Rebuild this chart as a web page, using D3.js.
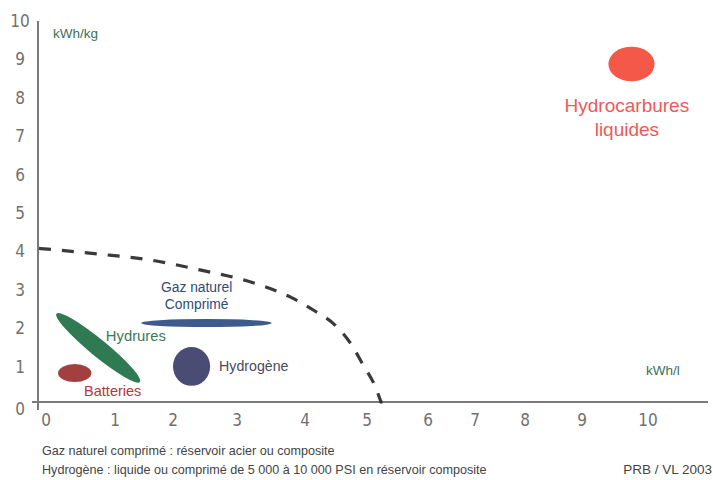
<!DOCTYPE html>
<html>
<head>
<meta charset="utf-8">
<script src="https://cdn.jsdelivr.net/npm/d3@7"></script>
<style>
  html, body { margin: 0; padding: 0; background: #fff; }
  svg { display: block; }
</style>
</head>
<body>
<script>
// ---- Data ----
const xTicks = [0, 1, 2, 3, 4, 5, 6, 7, 8, 9, 10];
const yTicks = [0, 1, 2, 3, 4, 5, 6, 7, 8, 9, 10];

// Boundary (dashed) curve: [kWh/l, kWh/kg]
const limitX = [0, 0.8, 1.6, 2.42, 3.19, 3.81, 4.16, 4.48, 4.73, 4.94, 5.13, 5.23];
const limitY = [4.0, 3.85, 3.7, 3.44, 3.13, 2.71, 2.37, 2.01, 1.54, 0.96, 0.42, 0];

// Technology regions (ranges of kWh/l and kWh/kg)
const techNames  = ["Hydrocarbures liquides", "Gaz naturel Comprimé", "Hydrogène", "Batteries"];
const techXRange = [[9.4, 10.1], [1.45, 3.51], [2.0, 2.58], [0.25, 0.69]];
const techYRange = [[8.35, 9.25], [1.95, 2.16], [0.42, 1.43], [0.52, 0.99]];
// Hydrures: elongated region between two end points
const hydruresEnds = [[0.23, 2.3], [1.43, 0.52]];

// Labels
const labelLines = [["Hydrocarbures", "liquides"], ["Gaz naturel", "Comprimé"], ["Hydrogène"], ["Batteries"], ["Hydrures"]];
const labelPos   = [[9.68, 7.72], [2.37, 3.0], [2.72, 0.93], [0.97, 0.28], [1.36, 1.72]];

const footnotes = [
  "Gaz naturel comprimé : réservoir acier ou composite",
  "Hydrogène : liquide ou comprimé de 5 000 à 10 000 PSI en réservoir composite"
];
const credit = "PRB / VL 2003";
const yUnit = "kWh/kg";
const xUnit = "kWh/l";

// ---- Layout ----
const W = 713, H = 480;
const svg = d3.select("body").append("svg").attr("width", W).attr("height", H);

// Original figure has an irregular horizontal graduation: polylinear scale
const x = d3.scaleLinear()
  .domain(xTicks)
  .range([39, 115, 173, 237, 305, 367, 428, 475, 525, 582, 648]);
const y = d3.scaleLinear().domain([0, 10]).range([402, 18]);

const axisColor = "#7a7a7a";
const tickFont = "'Liberation Sans Narrow', 'DejaVu Sans Condensed', 'Arial Narrow', sans-serif";
const textFont = "Arial, 'Liberation Sans', sans-serif";

// Axes lines
svg.append("line").attr("x1", 38).attr("x2", 38).attr("y1", 21).attr("y2", 410)
  .attr("stroke", axisColor).attr("stroke-width", 2);
svg.append("line").attr("x1", 32).attr("x2", 708).attr("y1", y(0)).attr("y2", y(0))
  .attr("stroke", axisColor).attr("stroke-width", 2);

// Y tick labels
svg.append("g").selectAll("text").data(yTicks).join("text")
  .attr("x", 20).attr("y", d => y(d) + (d === 0 ? 7 : 3))
  .attr("dy", "0.35em")
  .attr("text-anchor", "middle")
  .attr("font-family", tickFont).attr("font-size", 17).attr("fill", "#707070")
  .text(d => d);

// X tick labels
svg.append("g").selectAll("text").data(xTicks).join("text")
  .attr("x", d => x(d) + (d === 0 ? 7 : 0)).attr("y", 420)
  .attr("dy", "0.35em")
  .attr("text-anchor", "middle")
  .attr("font-family", tickFont).attr("font-size", 17).attr("fill", "#707070")
  .text(d => d);

// Units
svg.append("text").attr("x", 53).attr("y", 38)
  .attr("font-family", textFont).attr("font-size", 13.5)
  .attr("fill", "#3e6e5a").text(yUnit);
svg.append("text").attr("x", 646).attr("y", 375)
  .attr("font-family", textFont).attr("font-size", 13.5)
  .attr("fill", "#3e6e5a").text(xUnit);

// Dashed limit curve
const curve = d3.line().x(d => x(d[0])).y(d => y(d[1])).curve(d3.curveMonotoneX);
svg.append("path")
  .datum(limitX.map((v, i) => [v, limitY[i]]))
  .attr("d", curve)
  .attr("fill", "none").attr("stroke", "#3a3a3a").attr("stroke-width", 3.2)
  .attr("stroke-dasharray", "12,11");
svg.append("circle").attr("cx", x(5.23)).attr("cy", y(0)).attr("r", 1.8).attr("fill", "#333");

// Technology ellipses
const techFill = ["#f45848", "#3d5b8c", "#4a4c74", "#a2403f"];
svg.append("g").selectAll("ellipse").data(techNames).join("ellipse")
  .attr("cx", (d, i) => (x(techXRange[i][0]) + x(techXRange[i][1])) / 2)
  .attr("cy", (d, i) => (y(techYRange[i][0]) + y(techYRange[i][1])) / 2)
  .attr("rx", (d, i) => Math.abs(x(techXRange[i][1]) - x(techXRange[i][0])) / 2)
  .attr("ry", (d, i) => Math.abs(y(techYRange[i][1]) - y(techYRange[i][0])) / 2)
  .attr("fill", (d, i) => techFill[i]);

// Hydrures rotated ellipse
{
  const [a, b] = hydruresEnds;
  const x1 = x(a[0]), y1 = y(a[1]), x2 = x(b[0]), y2 = y(b[1]);
  const cx = (x1 + x2) / 2, cy = (y1 + y2) / 2;
  const len = Math.hypot(x2 - x1, y2 - y1) / 2;
  const ang = Math.atan2(y2 - y1, x2 - x1) * 180 / Math.PI;
  svg.append("ellipse")
    .attr("cx", 0).attr("cy", 0).attr("rx", len).attr("ry", 8.5)
    .attr("transform", `translate(${cx},${cy}) rotate(${ang})`)
    .attr("fill", "#2f7a52");
}

// Labels
const labelColor = ["#ee5a55", "#2f4a78", "#4a4a5a", "#b03838", "#3a7a5a"];
const labelSize = [19, 13.8, 14.2, 14.5, 14.8];
const labelAnchor = ["middle", "middle", "start", "middle", "middle"];
const lg = svg.append("g").attr("font-family", textFont);
labelLines.forEach((lines, i) => {
  const t = lg.append("text")
    .attr("x", x(labelPos[i][0])).attr("y", y(labelPos[i][1]))
    .attr("text-anchor", labelAnchor[i])
    .attr("font-size", labelSize[i]).attr("fill", labelColor[i]);
  lines.forEach((ln, j) => {
    t.append("tspan").attr("x", x(labelPos[i][0]))
      .attr("dy", j === 0 ? "0.35em" : "1.25em").text(ln);
  });
});

// Footnotes
svg.append("g").selectAll("text").data(footnotes).join("text")
  .attr("x", 42).attr("y", (d, i) => 455 + i * 19)
  .attr("font-family", textFont).attr("font-size", 12.6)
  .attr("fill", "#444").text(d => d);
svg.append("text").attr("x", 712).attr("y", 474).attr("text-anchor", "end")
  .attr("font-family", textFont).attr("font-size", 13.5)
  .attr("fill", "#444").text(credit);
</script>
</body>
</html>
